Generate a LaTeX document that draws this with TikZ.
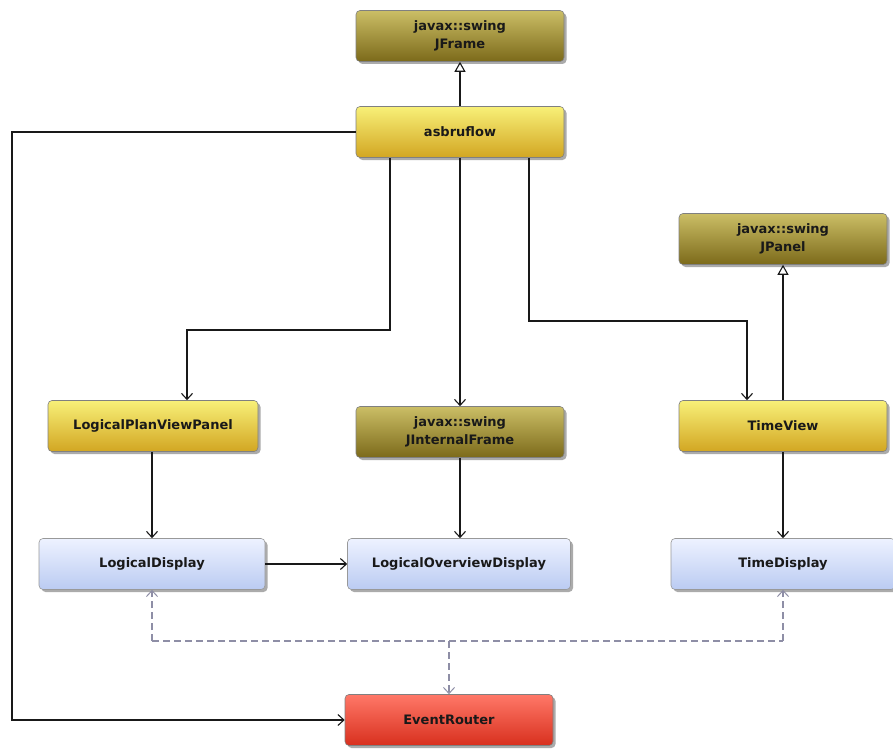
\documentclass[tikz,border=0pt]{standalone}
\usepackage{fontspec}
\setmainfont{DejaVu Sans}
\usetikzlibrary{arrows.meta,shadows,positioning}
\definecolor{ylTop}{HTML}{F8F078}
\definecolor{ylBot}{HTML}{D2A622}
\definecolor{olTop}{HTML}{CBBE66}
\definecolor{olBot}{HTML}{7C6A1A}
\definecolor{blTop}{HTML}{EDF2FF}
\definecolor{blBot}{HTML}{BACBF2}
\definecolor{rdTop}{HTML}{FF7868}
\definecolor{rdBot}{HTML}{D8301E}
\definecolor{dashcol}{HTML}{8E8EA6}
\begin{document}
\begin{tikzpicture}[x=1pt,y=-1pt,
  box/.style={draw=black!50, line width=0.6pt, rounded corners=4pt,
    minimum width=208pt, minimum height=51pt, inner sep=0pt, align=center,
    text=black!90, font=\fontsize{13}{18}\selectfont\bfseries,
    drop shadow={shadow xshift=2.5pt, shadow yshift=-2.5pt, fill=black!60, opacity=0.55}},
  yellowbox/.style={box, top color=ylTop, bottom color=ylBot},
  olivebox/.style={box, top color=olTop, bottom color=olBot},
  bluebox/.style={box, top color=blTop, bottom color=blBot, draw=black!40},
  redbox/.style={box, top color=rdTop, bottom color=rdBot},
  link/.style={draw=black!90, line width=1.2pt, -{Straight Barb[length=6pt,width=11pt,line width=1.1pt]}},
  inherit/.style={draw=black!90, line width=1.2pt, -{Triangle[open,length=10pt,width=11pt,fill=white,line width=1.1pt]}},
  evt/.style={draw=dashcol, line width=1.1pt, dash pattern=on 7pt off 4pt},
  evtarrow/.style={evt, -{Straight Barb[length=6pt,width=11pt,line width=1pt]}}
]
\useasboundingbox (0,0) rectangle (893,749);

\node[olivebox]  (jframe)   at (460,36)  {javax::swing\\JFrame};
\node[yellowbox] (asbru)    at (460,132) {asbruflow};
\node[olivebox]  (jpanel)   at (783,239) {javax::swing\\JPanel};
\node[yellowbox, minimum width=210pt] (lpvp) at (153,426) {LogicalPlanViewPanel};
\node[olivebox]  (jif)      at (460,432) {javax::swing\\JInternalFrame};
\node[yellowbox] (timeview) at (783,426) {TimeView};
\node[bluebox, minimum width=226pt] (ldisp) at (152,564) {LogicalDisplay};
\node[bluebox, minimum width=223pt] (lod)   at (459,564) {LogicalOverviewDisplay};
\node[bluebox, minimum width=224pt] (tdisp) at (783,564) {TimeDisplay};
\node[redbox]    (router)   at (449,720) {EventRouter};

\coordinate (lbend) at (12,132);
\coordinate (lbot) at (12,720);
\coordinate (bendA) at (390,330);
\coordinate (bendB) at (187,330);
\coordinate (bendC) at (529,321);
\coordinate (bendD) at (747,321);
\coordinate (dL) at (152,641);
\coordinate (dR) at (783,641);
\coordinate (dM) at (449,641);

\draw[inherit] (asbru) -- (jframe);
\draw[inherit] (timeview.north) -- (jpanel.south);

\draw[link] (asbru.west) -- (lbend) -- (lbot) -- (router.west);
\draw[link] (asbru.south -| bendA) -- (bendA) -- (bendB) -- (bendB |- lpvp.north);
\draw[link] (asbru.south) -- (jif.north);
\draw[link] (asbru.south -| bendC) -- (bendC) -- (bendD) -- (bendD |- timeview.north);

\draw[link] (lpvp.south -| ldisp) -- (ldisp.north);
\draw[link] (jif.south) -- (jif.south |- lod.north);
\draw[link] (timeview.south) -- (tdisp.north);
\draw[link] (ldisp.east) -- (lod.west);

\draw[evt] (dL) -- (dR);
\draw[evtarrow] (dL) -- (ldisp.south);
\draw[evtarrow] (dR) -- (tdisp.south);
\draw[evtarrow] (dM) -- (router.north);
\end{tikzpicture}
\end{document}
